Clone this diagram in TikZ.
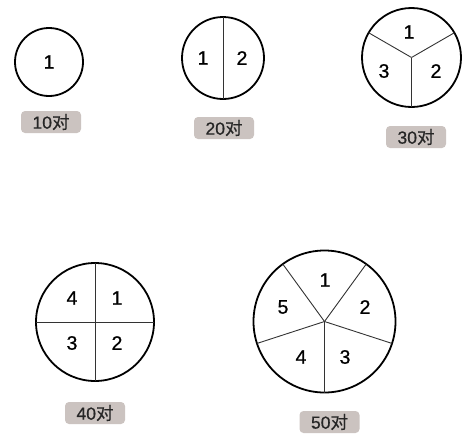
\documentclass[tikz,border=0pt]{standalone}
\usepackage{fontspec}
\setmainfont{Liberation Sans}[FakeBold=0.6]
\newfontfamily\numfont{Liberation Sans}[FakeBold=0.7]
\newfontfamily\cjkfont{Noto Sans CJK SC}[FakeBold=0.5]
\begin{document}
\begin{tikzpicture}[x=1pt,y=-1pt,
  circ/.style={circle,draw=black,line width=1.8pt,inner sep=0pt,outer sep=0pt},
  spoke/.style={draw=black!80,line width=0.9pt},
  num/.style={font=\numfont\fontsize{19.5}{19.5}\selectfont,text=black,inner sep=0pt},
  tag/.style={fill=tagbg,rounded corners=4pt,minimum width=60pt,minimum height=22pt,inner sep=0pt,font=\numfont\fontsize{17.5}{17.5}\selectfont,text=black!85}]
\definecolor{tagbg}{RGB}{203,195,192}
\useasboundingbox (0,0) rectangle (470,439);
% circle 1
\node[circ,minimum size=68pt] (c1) at (49,62) {};
\node[num] (c1n1) at (49,62) {1};
\node[tag] (t1) at (51,122) {10{\cjkfont 对}};
% circle 2
\node[circ,minimum size=82pt] (c2) at (223,58) {};
\draw[spoke] (c2.90) -- (c2.270);
\node[num] (c2n1) at (203,58) {1};
\node[num] (c2n2) at (242,58) {2};
\node[tag] (t2) at (224,128) {20{\cjkfont 对}};
% circle 3
\node[circ,minimum size=99pt] (c3) at (411.5,57.5) {};
\draw[spoke] (c3.center) -- (c3.30);
\draw[spoke] (c3.center) -- (c3.150);
\draw[spoke] (c3.center) -- (c3.270);
\node[num] (c3n1) at (409,32) {1};
\node[num] (c3n2) at (436,71) {2};
\node[num] (c3n3) at (384,71) {3};
\node[tag] (t3) at (416,137) {30{\cjkfont 对}};
% circle 4
\node[circ,minimum size=118pt] (c4) at (95,322) {};
\draw[spoke] (c4.90) -- (c4.270);
\draw[spoke] (c4.180) -- (c4.0);
\node[num] (c4n4) at (72,298) {4};
\node[num] (c4n1) at (117,298) {1};
\node[num] (c4n3) at (72,343) {3};
\node[num] (c4n2) at (117,343) {2};
\node[tag] (t4) at (95,413) {40{\cjkfont 对}};
% circle 5
\node[circ,minimum size=142pt] (c5) at (324.5,321.5) {};
\foreach \a in {54,126,198,270,342}{\draw[spoke] (c5.center) -- (c5.\a);}
\node[num] (c5n1) at (325,280) {1};
\node[num] (c5n2) at (365,307) {2};
\node[num] (c5n5) at (283,307) {5};
\node[num] (c5n4) at (301,357) {4};
\node[num] (c5n3) at (345,357) {3};
\node[tag] (t5) at (329.5,422) {50{\cjkfont 对}};
\end{tikzpicture}
\end{document}
